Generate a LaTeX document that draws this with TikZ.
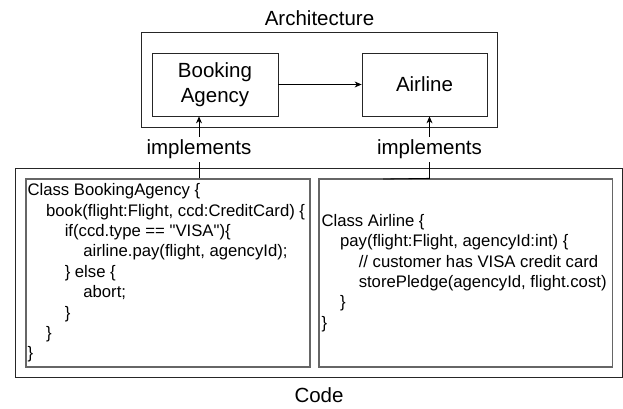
\documentclass[tikz,border=0pt]{standalone}
\usepackage{fontspec}
\setmainfont{Liberation Sans}
\newfontfamily\codefont{Liberation Sans}[Ligatures=TeXOff]
\usetikzlibrary{arrows.meta}
\tikzset{
  bigfont/.style={font=\fontsize{20.5}{24.6}\selectfont},
  archbox/.style={draw=black!85, line width=0.8pt, inner sep=0pt, align=center, bigfont},
  frame/.style={draw=black!85, line width=0.8pt, inner sep=0pt},
  codebox/.style={draw=black!60, line width=1.3pt, inner sep=0pt},
  codetext/.style={anchor=west, inner sep=0pt, align=left, font=\codefont\fontsize{16.7}{20.4}\selectfont},
  conn/.style={draw=black, line width=0.8pt},
  arr/.style={conn, -{Stealth[length=7pt,width=6pt]}},
  impl/.style={bigfont, fill=white, inner xsep=1pt, inner ysep=3pt},
  title/.style={bigfont, anchor=base}
}
\newcommand{\ind}{\hspace*{18.6pt}}
\begin{document}
\begin{tikzpicture}[x=1pt,y=-1pt]
\useasboundingbox (0,0) rectangle (623,408);
% Architecture
\node[title] (archtitle) at (319.5,25) {Architecture};
\node[frame, minimum width=355.3pt, minimum height=94.3pt] (arch) at (319.35,79.85) {};
\node[archbox, minimum width=126pt, minimum height=63pt] (ba) at (215,84.5) {Booking\\Agency};
\node[archbox, minimum width=125pt, minimum height=63pt] (al) at (424.5,84.5) {Airline};
\draw[arr] (ba.east) -- (al.west);
% Code
\node[frame, minimum width=607.6pt, minimum height=209.5pt] (code) at (318.8,272.75) {};
\node[codebox, minimum width=284pt, minimum height=188pt] (lcode) at (168,273) {};
\node[codebox, minimum width=293.7pt, minimum height=188pt] (rcode) at (465.85,273) {};
\node[title] (codetitle) at (319,402) {Code};
\node[codetext] (ltext) at ([xshift=2pt]lcode.west) {Class BookingAgency \{\\
\ind book(flight:Flight, ccd:CreditCard) \{\\
\ind\ind if(ccd.type == "VISA")\{\\
\ind\ind\ind airline.pay(flight, agencyId);\\
\ind\ind \} else \{\\
\ind\ind\ind abort;\\
\ind\ind \}\\
\ind \}\\
\}};
\node[codetext] (rtext) at ([xshift=3pt]rcode.west) {Class Airline \{\\
\ind pay(flight:Flight, agencyId:int) \{\\
\ind\ind // customer has VISA credit card\\
\ind\ind storePledge(agencyId, flight.cost)\\
\ind \}\\
\}};
% implements connectors
\coordinate (lx) at (199,116);
\coordinate (rx) at (429.5,116);
\coordinate (rs) at (383,179);
\draw[arr] (lcode.north -| lx) -- node[impl, pos=0.47] (limp) {implements} (ba.south -| lx);
\draw[arr] (rs) -- (rcode.north -| rx) -- node[impl, pos=0.47] (rimp) {implements} (al.south -| rx);
\end{tikzpicture}
\end{document}
